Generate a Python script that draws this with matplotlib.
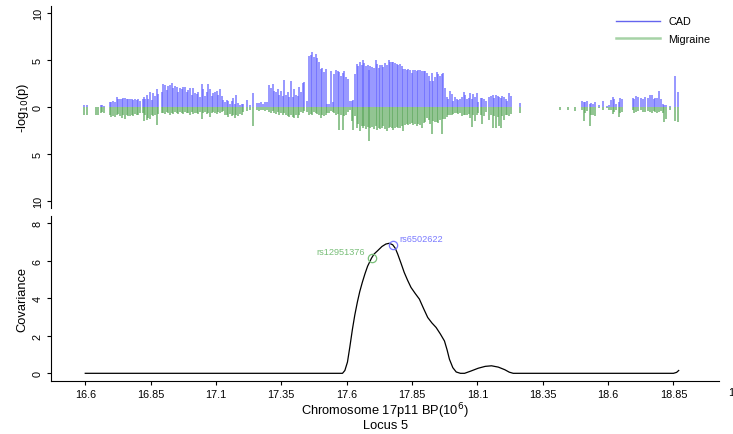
import numpy as np
import matplotlib.pyplot as plt
from matplotlib.lines import Line2D

plt.rcParams['font.family'] = ['Liberation Sans', 'DejaVu Sans']

# SNP positions (Mb) and -log10(p) for CAD (drawn up) and Migraine (drawn down)
snp_pos = [
    16.597, 16.608, 16.641, 16.647, 16.659, 16.664, 16.673,
    16.695, 16.700, 16.706, 16.714, 16.720, 16.726, 16.733, 16.739, 16.745, 16.752,
    16.758, 16.765, 16.771, 16.778, 16.784, 16.790, 16.797, 16.803, 16.809,
    16.819, 16.825, 16.830, 16.835, 16.840, 16.848, 16.854, 16.860, 16.867, 16.873, 16.879,
    16.892, 16.899, 16.905, 16.912, 16.918, 16.924, 16.931, 16.937, 16.943, 16.950,
    16.956, 16.962, 16.969, 16.975, 16.982, 16.988, 16.994, 17.001, 17.007, 17.013,
    17.020, 17.026, 17.032, 17.039,
    17.045, 17.052, 17.058, 17.065, 17.071, 17.077, 17.084, 17.090, 17.096, 17.103,
    17.109, 17.116, 17.122, 17.128,
    17.135, 17.142, 17.147, 17.154, 17.160, 17.166, 17.173, 17.177, 17.186, 17.192,
    17.199, 17.205, 17.218, 17.230, 17.243,
    17.257, 17.265, 17.272, 17.280, 17.288, 17.295,
    17.304, 17.311, 17.317, 17.323, 17.330, 17.336, 17.342, 17.349, 17.355, 17.362,
    17.368, 17.375, 17.381, 17.387, 17.394, 17.400, 17.406, 17.413, 17.419, 17.426,
    17.432, 17.438,
    17.447, 17.456, 17.463, 17.469, 17.475, 17.482, 17.488, 17.494, 17.501, 17.507,
    17.513, 17.520,
    17.526, 17.533, 17.540, 17.547, 17.553, 17.559, 17.566, 17.572, 17.579, 17.585,
    17.591, 17.598, 17.604, 17.613, 17.620, 17.626, 17.632,
    17.640, 17.645, 17.651, 17.657, 17.663, 17.668, 17.674, 17.680, 17.686, 17.691,
    17.697, 17.703, 17.711, 17.716, 17.722, 17.728, 17.734, 17.739, 17.748, 17.753,
    17.760, 17.766, 17.773, 17.779, 17.785, 17.792, 17.798, 17.804, 17.811, 17.817,
    17.824,
    17.830, 17.836, 17.843, 17.849, 17.855, 17.862, 17.868, 17.874, 17.881, 17.887,
    17.894, 17.900,
    17.907, 17.913, 17.919, 17.926, 17.932, 17.938, 17.945, 17.951, 17.957, 17.964,
    17.970, 17.977,
    17.983, 17.989, 17.996, 18.002, 18.008, 18.015, 18.021, 18.027, 18.034, 18.040,
    18.047, 18.053, 18.060, 18.066, 18.072, 18.079, 18.085, 18.091, 18.098, 18.103,
    18.112, 18.118, 18.125, 18.131,
    18.145, 18.151, 18.158, 18.164, 18.171, 18.177, 18.183, 18.190, 18.196, 18.202,
    18.209, 18.215, 18.222, 18.228,
    18.262,
    18.417, 18.445, 18.474,
    18.501, 18.506, 18.512, 18.519, 18.529, 18.535, 18.543, 18.550, 18.567, 18.579,
    18.595, 18.602, 18.611, 18.617, 18.623, 18.630, 18.640, 18.646, 18.654,
    18.695, 18.700, 18.708, 18.716, 18.726, 18.733, 18.742, 18.751, 18.761, 18.768,
    18.774, 18.780, 18.787, 18.794, 18.802, 18.810, 18.815, 18.822, 18.835,
    18.857, 18.866,
]
cad_logp = [
    0.2, 0.2, 0.05, 0.05, 0.25, 0.25, 0.15,
    0.5, 0.5, 0.6, 0.5, 1.1, 0.8, 0.9, 0.8, 1.0, 1.0,
    0.9, 0.9, 0.8, 0.9, 0.7, 0.8, 0.7, 0.8, 0.6,
    0.9, 1.1, 0.8, 1.3, 0.9, 1.6, 0.7, 1.5, 1.2, 1.9, 1.4,
    1.6, 2.4, 2.3, 1.8, 2.2, 2.3, 2.6, 2.0, 2.2, 2.1,
    1.6, 2.0, 1.9, 2.1, 2.1, 1.6, 1.8, 2.0, 1.3, 2.0,
    1.5, 1.4, 1.6, 1.1,
    2.5, 1.9, 1.2, 1.6, 2.5, 1.9, 1.2, 1.5, 1.6, 1.7,
    1.3, 1.9, 1.2, 0.7,
    0.5, 0.7, 0.6, 0.3, 0.6, 1.0, 0.3, 1.3, 0.4, 0.2,
    0.3, 0.3, 0.7, 0.2, 1.5,
    0.4, 0.4, 0.5, 0.3, 0.5, 0.5,
    2.3, 2.0, 2.4, 1.7, 1.6, 1.9, 1.3, 1.7, 1.2, 2.9,
    1.3, 1.6, 1.1, 2.8, 1.1, 1.9, 1.3, 1.2, 2.1, 1.6,
    2.6, 2.7,
    0.6, 5.4, 5.5, 5.9, 5.3, 5.6, 5.2, 4.8, 4.0, 4.2,
    3.7, 4.0,
    0.3, 0.3, 3.8, 0.5, 3.5, 3.9, 3.8, 3.7, 3.3, 3.6,
    3.8, 3.2, 3.0, 0.6, 0.6, 0.7, 3.5,
    4.6, 4.4, 4.8, 4.5, 5.0, 4.7, 4.4, 4.5, 3.9, 4.4,
    4.3, 4.1, 5.0, 4.6, 4.2, 4.5, 4.5, 4.3, 4.7, 4.5,
    5.0, 4.8, 4.8, 4.8, 4.7, 4.6, 4.5, 4.6, 4.4, 4.0,
    4.0,
    3.9, 4.0, 3.9, 3.6, 3.9, 3.9, 3.8, 3.9, 3.9, 3.8,
    3.8, 3.8,
    3.6, 3.3, 2.8, 3.6, 2.8, 3.2, 3.7, 3.5, 3.3, 3.5,
    3.6, 2.0,
    1.1, 0.9, 1.7, 1.4, 0.6, 1.1, 0.8, 0.7, 0.8, 1.1,
    1.6, 1.3, 0.8, 1.0, 1.5, 0.9, 1.4, 1.1, 1.5, 0.5,
    1.0, 1.0, 0.9, 0.6,
    1.1, 1.2, 1.3, 1.0, 1.3, 1.2, 1.1, 1.0, 1.2, 1.1,
    0.8, 0.6, 1.5, 1.2,
    0.4,
    0.05, 0.05, 0.05,
    0.6, 0.5, 0.5, 0.6, 0.3, 0.4, 0.3, 0.5, 0.2, 0.6,
    0.1, 0.2, 0.7, 1.1, 0.8, 0.3, 0.5, 1.0, 0.9,
    1.0, 0.9, 1.2, 1.1, 1.0, 0.9, 1.1, 1.0, 1.3, 1.3,
    0.8, 1.0, 1.0, 1.7, 0.9, 0.3, 0.2, 0.2, 0.1,
    3.3, 1.6,
]
migraine_logp = [
    0.85, 0.85, 0.8, 0.8, 0.6, 0.5, 0.6,
    0.9, 1.1, 1.0, 1.1, 0.9, 0.7, 1.0, 1.2, 0.8, 1.3,
    0.9, 1.0, 1.0, 0.8, 1.0, 0.7, 0.9, 0.8, 0.6,
    0.6, 1.5, 0.9, 1.4, 1.2, 1.3, 0.8, 1.0, 0.9, 1.9, 0.7,
    0.6, 0.6, 0.7, 0.5, 0.6, 0.8, 0.6, 0.7, 0.5, 0.6,
    0.7, 0.5, 0.6, 0.7, 0.5, 0.6, 0.6, 0.8, 0.5, 0.7,
    0.6, 0.6, 0.7, 0.5,
    1.3, 0.6, 0.5, 0.7, 0.6, 1.1, 0.6, 0.5, 0.6, 0.7,
    0.5, 0.6, 0.5, 0.4,
    0.8, 0.9, 1.1, 0.7, 1.0, 0.8, 1.2, 0.9, 1.0, 0.7,
    0.9, 0.5, 0.4, 0.3, 2.0,
    0.3, 0.4, 0.3, 0.3, 0.4, 0.3,
    0.5, 0.6, 0.4, 0.6, 0.7, 0.5, 0.8, 0.6, 0.9, 0.6,
    0.8, 1.0, 1.1, 0.9, 1.1, 1.2, 0.9, 1.2, 0.8, 0.5,
    0.6, 0.4,
    0.5, 0.8, 0.7, 0.8, 0.5, 0.6, 0.7, 0.9, 1.2, 0.8,
    1.0, 0.9,
    0.6, 0.6, 0.4, 0.5, 0.6, 0.9, 0.7, 2.4, 0.8, 2.4,
    1.0, 0.9, 0.5, 0.3, 1.5, 2.4, 1.0,
    2.2, 1.8, 2.6, 2.0, 2.2, 2.0, 2.3, 2.1, 3.6, 2.2,
    2.1, 2.3, 2.0, 2.4, 2.2, 2.3, 2.2, 2.0, 2.3, 2.5,
    2.2, 2.1, 2.2, 2.4, 2.2, 2.1, 2.2, 2.2, 2.0, 2.5,
    1.9,
    1.8, 1.9, 1.8, 1.7, 1.9, 1.8, 2.0, 1.8, 1.9, 2.2,
    1.7, 1.6,
    1.2, 1.4, 1.8, 2.9, 1.5, 1.6, 1.6, 1.7, 1.4, 2.9,
    1.3, 1.3,
    1.1, 0.9, 0.8, 0.8, 0.7, 0.6, 0.6, 0.7, 0.6, 1.0,
    0.9, 0.8, 0.9, 0.7, 1.2, 2.1, 0.8, 1.5, 0.8, 0.6,
    0.8, 1.8, 1.0, 0.5,
    1.4, 0.9, 2.2, 1.0, 2.2, 1.1, 2.0, 2.2, 1.0, 1.4,
    0.9, 0.8, 1.0, 0.7,
    0.6,
    0.3, 0.3, 0.4,
    0.3, 1.5, 0.6, 0.4, 2.0, 0.8, 0.9, 1.0, 0.1, 0.3,
    0.1, 0.3, 0.3, 0.7, 0.5, 0.3, 1.1, 0.6, 0.5,
    0.3, 0.6, 0.5, 0.4, 0.3, 0.5, 0.5, 0.4, 0.5, 0.6,
    0.4, 0.5, 0.6, 0.5, 0.4, 0.6, 1.6, 1.3, 0.3,
    1.5, 1.6,
]

# covariance curve
cov_pos = [16.6, 17.584, 17.593, 17.603, 17.612, 17.622, 17.631, 17.641, 17.65, 17.66,
           17.67, 17.68, 17.695, 17.705, 17.718, 17.735, 17.75, 17.763, 17.776, 17.786,
           17.795, 17.808, 17.82, 17.833, 17.846, 17.862, 17.878, 17.894, 17.91, 17.926,
           17.942, 17.958, 17.974, 17.984, 17.993, 18.006, 18.019, 18.035, 18.051, 18.075,
           18.103, 18.13, 18.154, 18.18, 18.205, 18.222, 18.237, 18.85, 18.862, 18.87]
cov_val = [0, 0, 0.15, 0.6, 1.4, 2.35, 3.1, 3.8, 4.35, 4.85,
           5.3, 5.7, 6.13, 6.35, 6.52, 6.75, 6.88, 6.92, 6.84, 6.65,
           6.35, 5.85, 5.37, 4.95, 4.57, 4.25, 3.95, 3.45, 2.97, 2.68,
           2.44, 2.1, 1.72, 1.25, 0.75, 0.3, 0.07, 0, 0, 0.12,
           0.27, 0.37, 0.4, 0.33, 0.19, 0.06, 0, 0, 0.05, 0.15]

# lead SNPs for each trait
lead_names = ['rs12951376', 'rs6502622']
lead_pos = [17.695, 17.776]
lead_cov = [6.13, 6.84]

x_ticks = [16.6, 16.85, 17.1, 17.35, 17.6, 17.85, 18.1, 18.35, 18.6, 18.85]
x_tick_labels = ['16.6', '16.85', '17.1', '17.35', '17.6', '17.85', '18.1', '18.35', '18.6', '18.85']
top_y_ticks = [-10, -5, 0, 5, 10]
top_y_labels = ['10', '5', '0', '5', '10']
bot_y_ticks = [0, 2, 4, 6, 8]

CAD_COL = (0.40, 0.40, 1.0)
MIG_COL = (0.36, 0.66, 0.36)
CAD_TXT = '#7a7aff'
MIG_TXT = '#78be78'

fig = plt.figure(figsize=(7.33, 4.35), dpi=100)
ax_top = fig.add_axes([0.0696, 0.5195, 0.9116, 0.4644])
ax_bot = fig.add_axes([0.0696, 0.1218, 0.9116, 0.3793])
xlim = (16.469, 19.025)

# --- upper panel: mirrored association signals
ax_top.vlines(snp_pos, 0, cad_logp, color=CAD_COL, alpha=0.8, lw=1.2)
ax_top.vlines(snp_pos, 0, -np.array(migraine_logp), color=MIG_COL, alpha=0.8, lw=1.2)
ax_top.set_xlim(*xlim)
ax_top.set_ylim(-10.745, 10.745)
ax_top.set_yticks(top_y_ticks)
ax_top.set_yticklabels(top_y_labels)
ax_top.set_xticks([])
ax_top.set_ylabel('-log$_{10}$(p)', fontsize=9.3, labelpad=1)
for s in ['top', 'right', 'bottom']:
    ax_top.spines[s].set_visible(False)

handles = [Line2D([], [], color='#6464ee', lw=1.0),
           Line2D([], [], color='#a6d3a6', lw=1.8)]
ax_top.legend(handles, ['CAD', 'Migraine'], loc='upper left', bbox_to_anchor=(0.838, 0.975),
              frameon=False, fontsize=7.8, handlelength=4.0, handletextpad=0.8,
              labelspacing=0.72, borderpad=0)

# --- lower panel: covariance curve
ax_bot.plot(cov_pos, cov_val, color='black', lw=0.9)
ax_bot.plot(lead_pos[0], lead_cov[0], 'o', mfc='none', mec=MIG_TXT, ms=6, mew=0.9)
ax_bot.plot(lead_pos[1], lead_cov[1], 'o', mfc='none', mec=CAD_TXT, ms=6, mew=0.9)
ax_bot.annotate(lead_names[0], (lead_pos[0], lead_cov[0]), xytext=(-4.5, 4.5),
                textcoords='offset points', ha='right', va='center', fontsize=6.6, color=MIG_TXT)
ax_bot.annotate(lead_names[1], (lead_pos[1], lead_cov[1]), xytext=(4.5, 4.5),
                textcoords='offset points', ha='left', va='center', fontsize=6.6, color=CAD_TXT)
ax_bot.set_xlim(*xlim)
ax_bot.set_ylim(-0.41, 8.37)
ax_bot.set_xticks(x_ticks)
ax_bot.set_xticklabels(x_tick_labels)
ax_bot.set_yticks(bot_y_ticks)
ax_bot.set_ylabel('Covariance', fontsize=9.3, labelpad=3)
ax_bot.set_xlabel('Chromosome 17p11 BP(10$^6$)\nLocus 5', fontsize=9.3, labelpad=1,
                  linespacing=0.95)
ax_bot.text(19.1, -0.036, '19.1', transform=ax_bot.get_xaxis_transform(), ha='center',
            va='top', fontsize=7.8, clip_on=False)
for s in ['top', 'right']:
    ax_bot.spines[s].set_visible(False)

for ax in (ax_top, ax_bot):
    for s in ax.spines.values():
        s.set_linewidth(0.8)
    ax.tick_params(direction='out', length=3, width=0.8, labelsize=7.8, pad=2.5)
    ax.tick_params(axis='y', labelrotation=90, pad=3)
    for lab in ax.get_yticklabels():
        lab.set_va('center')

fig.savefig('out.png', dpi=100)
